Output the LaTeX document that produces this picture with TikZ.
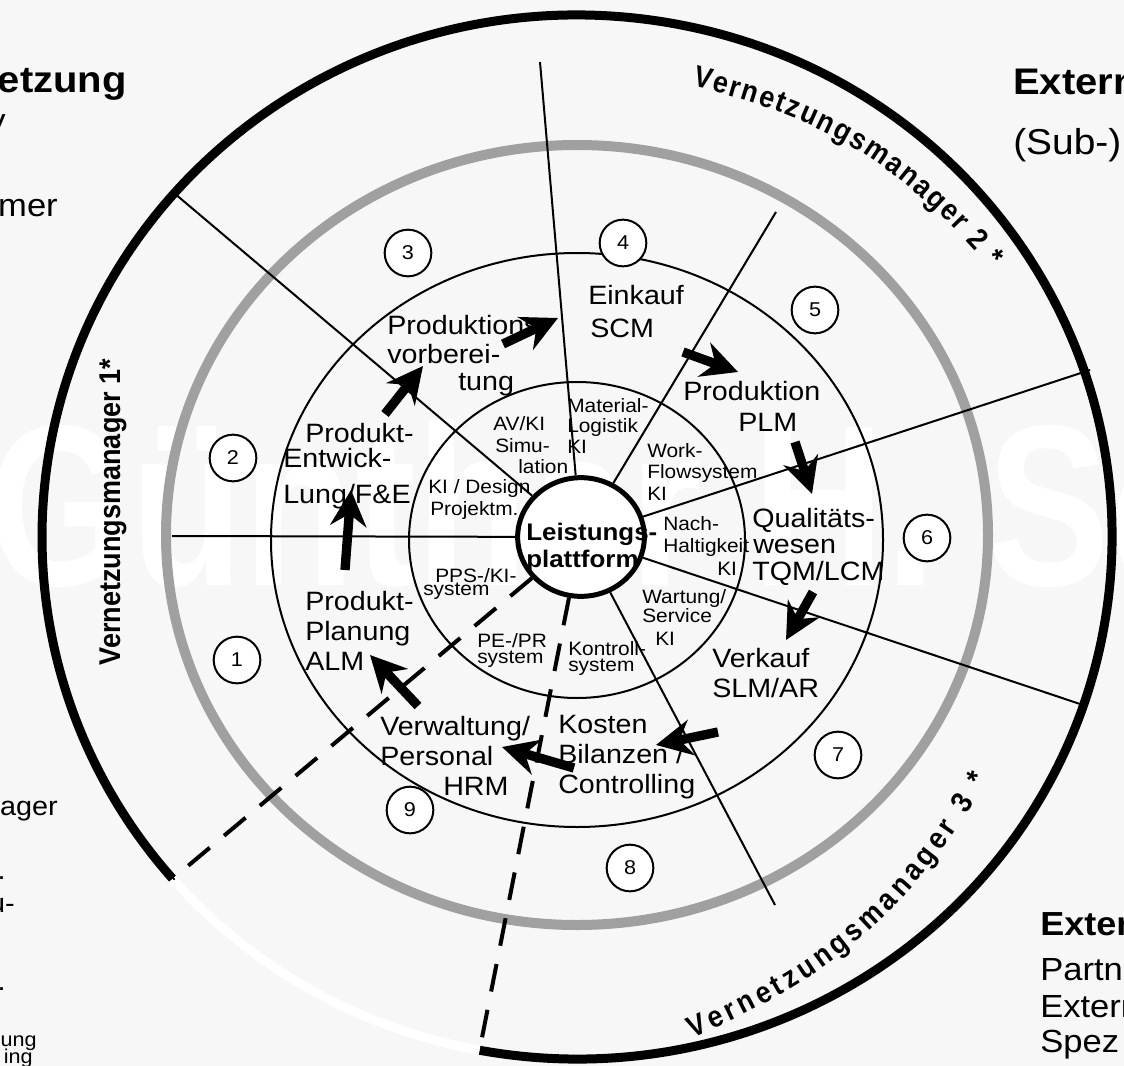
\documentclass[tikz,border=0pt]{standalone}
\usepackage{fontspec}
\usepackage{graphicx}
\setmainfont{Liberation Sans}[FakeStretch=1.08]
\newfontfamily\vmfont{Liberation Sans}[FakeStretch=0.9]
\newfontfamily\wmfont{Liberation Sans}
\usetikzlibrary{arrows.meta,decorations.text,shapes.geometric,calc}
\definecolor{bgc}{RGB}{247,247,247}
\definecolor{ringgray}{RGB}{160,160,160}
\tikzset{
  big/.style={inner sep=0pt, anchor=base west, font=\fontsize{19.9}{24}\selectfont},
  small/.style={inner sep=0pt, anchor=base west, font=\fontsize{14.5}{17}\selectfont},
  numc/.style={circle, draw, fill=white, line width=1.5pt, minimum size=35pt, inner sep=0pt, font=\fontsize{15}{16}\selectfont},
  spoke/.style={line width=1.5pt},
  ring/.style={line width=1.5pt},
  dashline/.style={line width=3pt, dash pattern=on 21pt off 14pt},
  flow/.style={line width=7pt, -{Stealth[length=27pt, width=27pt, inset=9pt]}},
  frag/.style={inner sep=0pt, anchor=base east},
  fragw/.style={inner sep=0pt, anchor=base west},
  vmtext/.style={decorate, decoration={text along path, text align={fit to path}, text={#1}}},
}
\begin{document}
\begin{tikzpicture}[x=0.75pt,y=0.75pt]
\useasboundingbox (0,0) rectangle (1124,-1066);
\fill[bgc] (0,0) rectangle (1124,-1066);
% watermark
\node[anchor=base west, inner sep=0pt, text=white, font=\wmfont\bfseries\fontsize{172}{172}\selectfont] (wm) at (-12,-585) {\scalebox{0.8}[1]{Günther H. Sc}};
% rings
\coordinate (C) at (577,-537);
\draw[ringgray, line width=7.5pt] (577,-535) ellipse [x radius=411, y radius=390];
\draw[line width=6.75pt] ([shift={(259.5:535 and 522)}]C) arc[start angle=259.5, end angle=580.9, x radius=535, y radius=522];
\draw[white, line width=6.75pt] ([shift={(220.9:535 and 522)}]C) arc[start angle=220.9, end angle=259.5, x radius=535, y radius=522];
\coordinate (e1) at ([shift={(220.9:535 and 522)}]C);
\coordinate (e2) at ([shift={(259.5:535 and 522)}]C);
\draw[ring] (577,-540) ellipse [x radius=306, y radius=287];
\draw[ring] (577,-540) ellipse [x radius=168, y radius=158];
% centre
\node[ellipse, draw, line width=3.75pt, fill=white, minimum width=95pt, minimum height=89pt, inner sep=0pt] (LP) at (581,-537) {};
% spokes
\coordinate (s1) at (172,-536);
\coordinate (s2) at (174,-193);
\coordinate (s3) at (540,-62);
\coordinate (s4) at (776,-212);
\coordinate (s5) at (1090,-370);
\coordinate (s6) at (1086,-706);
\coordinate (s7) at (775,-905);
\foreach \s in {s1,s2,s3,s4,s5,s6,s7} \draw[spoke] (LP) -- (\s);
\draw[dashline] (LP) -- (e1);
\draw[dashline] (LP) -- (e2);
% numbered circles
\node[numc] (n1) at (237,-660) {1};
\node[numc] (n2) at (233,-458) {2};
\node[numc] (n3) at (408,-253) {3};
\node[numc] (n4) at (623,-243) {4};
\node[numc] (n5) at (815,-310) {5};
\node[numc] (n6) at (927,-538) {6};
\node[numc] (n7) at (838,-755) {7};
\node[numc] (n8) at (630,-868) {8};
\node[numc] (n9) at (410,-810) {9};
% centre label
\node[inner sep=0pt, anchor=base west, font=\bfseries\fontsize{18}{20}\selectfont] (LPa) at (526,-540) {Leistungs-};
\node[inner sep=0pt, anchor=base west, font=\bfseries\fontsize{18}{20}\selectfont] (LPb) at (526,-567) {plattform};
% big labels
\node[big] (b1a) at (387,-334) {Produktions};
\node[big] (b1b) at (387,-363) {vorberei-};
\node[big] (b1c) at (458,-390) {tung};
\node[big] (b2a) at (588,-305) {Einkauf};
\node[big] (b2b) at (590,-337) {SCM};
\node[big] (b3a) at (683,-400) {Produktion};
\node[big] (b3b) at (738,-431) {PLM};
\node[big] (b4a) at (752,-527) {Qualitäts-};
\node[big] (b4b) at (753,-553) {wesen};
\node[big] (b4c) at (752,-580) {TQM/LCM};
\node[big] (b5a) at (712,-667) {Verkauf};
\node[big] (b5b) at (712,-697) {SLM/AR};
\node[big] (b6a) at (558,-733) {Kosten};
\node[big] (b6b) at (558,-763) {Bilanzen /};
\node[big] (b6c) at (558,-793) {Controlling};
\node[big] (b7a) at (380,-735) {Verwaltung/};
\node[big] (b7b) at (380,-765) {Personal};
\node[big] (b7c) at (443,-795) {HRM};
\node[big] (b8a) at (305,-610) {Produkt-};
\node[big] (b8b) at (305,-640) {Planung};
\node[big] (b8c) at (305,-670) {ALM};
\node[big] (b9a) at (305,-442) {Produkt-};
\node[big] (b9b) at (283,-467) {Entwick-};
\node[big] (b9c) at (283,-503) {Lung/F\&E};
% small labels
\node[small] (k1a) at (493,-430) {AV/KI};
\node[small] (k1b) at (495,-452) {Simu-};
\node[small] (k1c) at (518,-473) {lation};
\node[small] (k2a) at (567,-412) {Material-};
\node[small] (k2b) at (567,-432) {Logistik};
\node[small] (k2c) at (567,-453) {KI};
\node[small] (k3a) at (428,-493) {KI / Design};
\node[small] (k3b) at (430,-515) {Projektm.};
\node[small] (k4a) at (647,-457) {Work-};
\node[small] (k4b) at (647,-478) {Flowsystem};
\node[small] (k4c) at (647,-500) {KI};
\node[small] (k5a) at (663,-530) {Nach-};
\node[small] (k5b) at (663,-552) {Haltigkeit};
\node[small] (k5c) at (717,-575) {KI};
\node[small] (k6a) at (435,-582) {PPS-/KI-};
\node[small] (k6b) at (423,-595) {system};
\node[small] (k7a) at (477,-647) {PE-/PR};
\node[small] (k7b) at (477,-663) {system};
\node[small] (k8a) at (568,-655) {Kontroll-};
\node[small] (k8b) at (568,-671) {system};
\node[small] (k9a) at (642,-603) {Wartung/};
\node[small] (k9b) at (642,-622) {Service};
\node[small] (k9c) at (655,-645) {KI};
% flow arrows
\coordinate (a1s) at (345,-570); \coordinate (a1e) at (351,-490);
\coordinate (a2s) at (385,-414); \coordinate (a2e) at (423,-366);
\coordinate (a3s) at (503,-344); \coordinate (a3e) at (558,-318);
\coordinate (a4s) at (683,-352); \coordinate (a4e) at (738,-372);
\coordinate (a5s) at (795,-442); \coordinate (a5e) at (812,-494);
\coordinate (a6s) at (813,-592); \coordinate (a6e) at (786,-640);
\coordinate (a7s) at (718,-732); \coordinate (a7e) at (656,-745);
\coordinate (a8s) at (574,-768); \coordinate (a8e) at (502,-747);
\coordinate (a9s) at (418,-706); \coordinate (a9e) at (370,-655);
\foreach \i in {1,...,9} \draw[flow] (a\i s) -- (a\i e);
% Vernetzungsmanager labels
\node[rotate=90, anchor=base, inner sep=0pt, font=\vmfont\bfseries\fontsize{22.5}{27}\selectfont] (vm1) at (120,-512) {Vernetzungsmanager 1*};
\coordinate (t2a) at (692,-86);
\coordinate (t2b) at (990,-268);
\path[vmtext={|\vmfont\bfseries\fontsize{22.5}{27}\selectfont|Vernetzungsmanager 2 *}] (t2a) to[bend left=18] (t2b);
\coordinate (t3a) at (692,-1038);
\coordinate (t3b) at (988,-780);
\path[vmtext={|\vmfont\bfseries\fontsize{22.5}{27}\selectfont|Vernetzungsmanager 3 *}] (t3a) to[bend right=18] (t3b);
% cut-off side texts
\node[frag, font=\bfseries\fontsize{27.75}{30}\selectfont] (f1) at (127,-93) {etzung};
\node[frag, font=\fontsize{24}{28}\selectfont] (f2) at (6,-132) {y};
\node[frag, font=\fontsize{24}{28}\selectfont] (f3) at (58,-217) {mer};
\node[fragw, font=\bfseries\fontsize{27.75}{30}\selectfont] (g1) at (1013,-95) {Extern};
\node[fragw, font=\fontsize{27}{30}\selectfont] (g2) at (1013,-155) {(Sub-)};
\node[fragw, font=\bfseries\fontsize{25}{28}\selectfont] (h1) at (1040,-935) {Extern};
\node[fragw, font=\fontsize{24}{28}\selectfont] (h2) at (1040,-980) {Partner};
\node[fragw, font=\fontsize{24}{28}\selectfont] (h3) at (1040,-1017) {Extern};
\node[fragw, font=\fontsize{24}{28}\selectfont] (h4) at (1040,-1052) {Spez};
\node[frag, font=\fontsize{20}{24}\selectfont] (j1) at (58,-815) {ager};
\node[frag, font=\fontsize{20}{24}\selectfont] (j2) at (6,-879) {.};
\node[frag, font=\fontsize{20}{24}\selectfont] (j3) at (15,-912) {u-};
\node[frag, font=\fontsize{20}{24}\selectfont] (j4) at (6,-990) {.};
\node[frag, font=\fontsize{15}{18}\selectfont] (j5) at (37,-1046) {ung};
\node[frag, font=\fontsize{15}{18}\selectfont] (j6) at (33,-1063) {ing};
\end{tikzpicture}
\end{document}
